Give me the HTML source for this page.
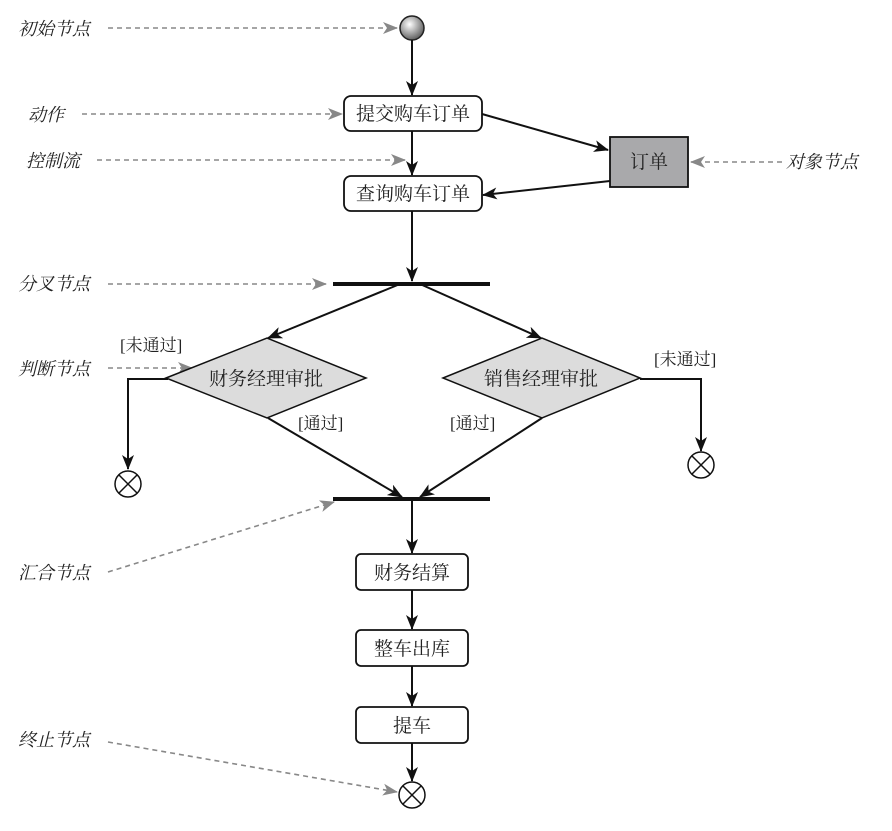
<!DOCTYPE html>
<html><head><meta charset="utf-8"><style>
html,body{margin:0;padding:0;background:#fff;}
svg text{font-family:"Liberation Serif","Noto Serif CJK SC",serif;}
</style></head><body>
<svg width="892" height="826" xmlns="http://www.w3.org/2000/svg">
<defs>
<marker id="a" markerWidth="15" markerHeight="12" refX="14" refY="6" orient="auto" markerUnits="userSpaceOnUse"><path d="M0,0 L15,6 L0,12 L4,6 Z" fill="#111"/></marker>
<marker id="g" markerWidth="15" markerHeight="12" refX="14" refY="6" orient="auto" markerUnits="userSpaceOnUse"><path d="M0,0 L15,6 L0,12 L4,6 Z" fill="#888"/></marker>
<radialGradient id="rg" cx="0.4" cy="0.35" r="0.7"><stop offset="0" stop-color="#fff"/><stop offset="1" stop-color="#555"/></radialGradient>
</defs>
<g stroke="#888" stroke-width="1.6" stroke-dasharray="5,4" fill="none">
<line x1="108" y1="28" x2="397" y2="28" marker-end="url(#g)"/>
<line x1="82" y1="114" x2="342" y2="114" marker-end="url(#g)"/>
<line x1="97" y1="160" x2="405" y2="160" marker-end="url(#g)"/>
<line x1="108" y1="284" x2="326" y2="284" marker-end="url(#g)"/>
<line x1="108" y1="368" x2="192" y2="368" marker-end="url(#g)"/>
<line x1="108" y1="572" x2="334" y2="502" marker-end="url(#g)"/>
<line x1="108" y1="742" x2="397" y2="792" marker-end="url(#g)"/>
<line x1="782" y1="162" x2="691" y2="162" marker-end="url(#g)"/>
</g>
<g font-style="italic" font-size="18" fill="#222">
<text x="18" y="35">初始节点</text>
<text x="28" y="121">动作</text>
<text x="26" y="167">控制流</text>
<text x="18" y="290">分叉节点</text>
<text x="18" y="375">判断节点</text>
<text x="18" y="579">汇合节点</text>
<text x="18" y="746">终止节点</text>
<text x="786" y="168">对象节点</text>
</g>
<circle cx="412" cy="28" r="12" fill="url(#rg)" stroke="#222" stroke-width="1.5"/>
<g stroke="#111" stroke-width="2" fill="none">
<line x1="412" y1="40" x2="412" y2="95" marker-end="url(#a)"/>
<line x1="412" y1="131" x2="412" y2="175" marker-end="url(#a)"/>
<line x1="482" y1="114" x2="608" y2="150" marker-end="url(#a)"/>
<line x1="610" y1="181" x2="483" y2="195" marker-end="url(#a)"/>
<line x1="412" y1="211" x2="412" y2="281" marker-end="url(#a)"/>
<line x1="400" y1="284" x2="268" y2="338" marker-end="url(#a)"/>
<line x1="420" y1="284" x2="541" y2="338" marker-end="url(#a)"/>
<polyline points="168,379 128,379 128,469" marker-end="url(#a)"/>
<polyline points="640,379 701,379 701,451" marker-end="url(#a)"/>
<line x1="268" y1="418" x2="402" y2="497" marker-end="url(#a)"/>
<line x1="542" y1="418" x2="420" y2="497" marker-end="url(#a)"/>
<line x1="412" y1="500" x2="412" y2="553" marker-end="url(#a)"/>
<line x1="412" y1="590" x2="412" y2="629" marker-end="url(#a)"/>
<line x1="412" y1="666" x2="412" y2="706" marker-end="url(#a)"/>
<line x1="412" y1="743" x2="412" y2="781" marker-end="url(#a)"/>
</g>
<line x1="333" y1="284" x2="490" y2="284" stroke="#111" stroke-width="4"/>
<line x1="333" y1="499" x2="490" y2="499" stroke="#111" stroke-width="4"/>
<g stroke="#111" stroke-width="1.8" fill="#fff">
<rect x="344" y="96" width="138" height="35" rx="7"/>
<rect x="344" y="176" width="138" height="35" rx="7"/>
<rect x="356" y="554" width="112" height="36" rx="5"/>
<rect x="356" y="630" width="112" height="36" rx="5"/>
<rect x="356" y="707" width="112" height="36" rx="5"/>
<rect x="610" y="137" width="78" height="50" fill="#a9a9ab"/>
<polygon points="166,378 267,338 366,378 267,418" fill="#dcdcdc" stroke-width="1.5"/>
<polygon points="443,378 542,338 640,378 542,418" fill="#dcdcdc" stroke-width="1.5"/>
</g>
<g stroke="#111" stroke-width="1.5" fill="#fff">
<circle cx="128" cy="484" r="13"/><path d="M119,475 L137,493 M137,475 L119,493"/>
<circle cx="701" cy="465" r="13"/><path d="M692,456 L710,474 M710,456 L692,474"/>
<circle cx="412" cy="795" r="13"/><path d="M403,786 L421,804 M421,786 L403,804"/>
</g>
<g font-size="19" fill="#222" text-anchor="middle">
<text x="413" y="120">提交购车订单</text>
<text x="413" y="200">查询购车订单</text>
<text x="649" y="168">订单</text>
<text x="266" y="385">财务经理审批</text>
<text x="541" y="385">销售经理审批</text>
<text x="412" y="579">财务结算</text>
<text x="412" y="655">整车出库</text>
<text x="412" y="732">提车</text>
</g>
<g font-size="17" fill="#222">
<text x="120" y="351">[未通过]</text>
<text x="654" y="365">[未通过]</text>
<text x="298" y="429">[通过]</text>
<text x="450" y="429">[通过]</text>
</g>
</svg>
</body></html>
